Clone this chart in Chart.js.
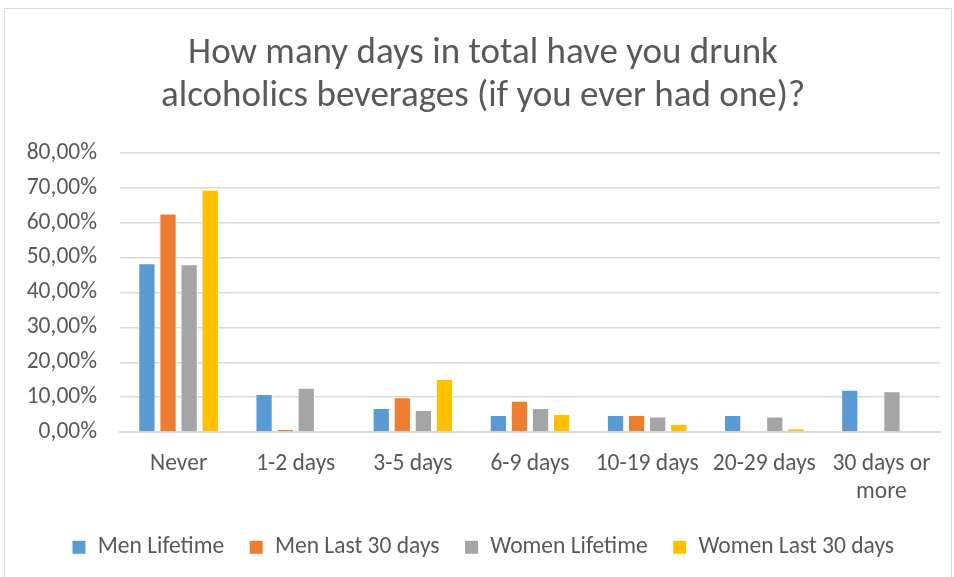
<!DOCTYPE html>
<html lang="en">
<head>
  <meta charset="UTF-8">
  <title>Days drinking alcoholic beverages</title>
  <script src="https://cdn.jsdelivr.net/npm/chart.js"></script>
  <style>
    html, body { margin: 0; background: #fff; overflow: hidden; }
    .frame {
      position: absolute; left: 4px; top: 8px;
      width: 946px; height: 600px;
      border: 1px solid #d9d9d9;
    }
  </style>
</head>
<body>
  <div class="frame"><canvas id="chart"></canvas></div>

  <script>
    const categories = ['Never', '1-2 days', '3-5 days', '6-9 days', '10-19 days', '20-29 days', ['30 days or', 'more']];
    const menLifetime = [48.4, 10.9, 6.9, 4.9, 4.9, 4.9, 12.1];
    const menLast30 = [62.6, 0.9, 10.0, 9.0, 4.9, 0, 0];
    const womenLifetime = [48.1, 12.7, 6.3, 6.9, 4.5, 4.5, 11.7];
    const womenLast30 = [69.4, 0, 15.2, 5.2, 2.3, 1.1, 0.4];

    const FONT = "'Carlito', 'Liberation Sans Narrow', 'Open Sans', sans-serif";
    const TEXT = '#595959';

    function series(label, data, color) {
      return {
        label, data,
        backgroundColor: color,
        borderColor: '#ffffff',
        borderWidth: 1,
        categoryPercentage: 0.72,
        barPercentage: 0.82
      };
    }

    new Chart(document.getElementById('chart'), {
      type: 'bar',
      data: {
        labels: categories,
        datasets: [
          series('Men Lifetime', menLifetime, '#5b9bd5'),
          series('Men Last 30 days', menLast30, '#ed7d31'),
          series('Women Lifetime', womenLifetime, '#a5a5a5'),
          series('Women Last 30 days', womenLast30, '#ffc000')
        ]
      },
      options: {
        responsive: true,
        maintainAspectRatio: false,
        animation: false,
        layout: { padding: { left: 21, right: 11, top: 23, bottom: 40 } },
        plugins: {
          title: {
            display: true,
            text: ['How many days in total have you drunk', 'alcoholics beverages (if you ever had one)?'],
            color: TEXT,
            font: { family: FONT, size: 37, weight: 'normal', lineHeight: 1.16 },
            padding: { top: 0, bottom: 35 }
          },
          legend: {
            position: 'bottom',
            labels: {
              color: TEXT,
              font: { family: FONT, size: 23.5 },
              boxWidth: 14, boxHeight: 14,
              padding: 25
            }
          },
          tooltip: { enabled: false }
        },
        scales: {
          x: {
            afterFit: axis => { axis.height -= 6; },
            grid: { display: false },
            border: { color: '#d9d9d9', width: 2 },
            ticks: { color: TEXT, font: { family: FONT, size: 23.5 }, maxRotation: 0, autoSkip: false, padding: 10 }
          },
          y: {
            min: 0, max: 80,
            afterFit: axis => { axis.width = 94; },
            grid: { color: '#d9d9d9', lineWidth: 1.5, drawTicks: false },
            border: { display: false },
            ticks: {
              stepSize: 10,
              color: TEXT,
              font: { family: FONT, size: 23.5 },
              padding: 23,
              callback: v => v.toFixed(2).replace('.', ',') + '%'
            }
          }
        }
      }
    });
  </script>
</body>
</html>
